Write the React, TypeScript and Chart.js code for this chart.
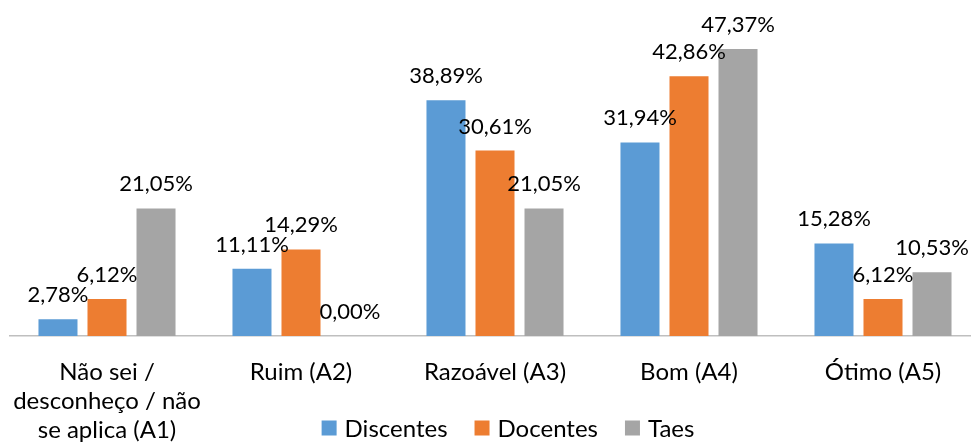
import React, { useEffect, useRef } from "react";
import { Chart, registerables } from "chart.js";

Chart.register(...registerables);

const categories: (string | string[])[] = [
  ["Não sei /", "desconheço / não", "se aplica (A1)"],
  "Ruim (A2)",
  "Razoável (A3)",
  "Bom (A4)",
  "Ótimo (A5)",
];
const discentes = [2.78, 11.11, 38.89, 31.94, 15.28];
const docentes = [6.12, 14.29, 30.61, 42.86, 6.12];
const taes = [21.05, 0.0, 21.05, 47.37, 10.53];
const seriesNames = ["Discentes", "Docentes", "Taes"];
const colors = ["#5B9BD5", "#ED7D31", "#A5A5A5"];

const FONT = "Lato, 'Open Sans', sans-serif";
const fmt = (v: number) => v.toFixed(2).replace(".", ",") + "%";

const labelPlugin = {
  id: "barLabels",
  afterDatasetsDraw(chart: any) {
    const ctx = chart.ctx;
    ctx.save();
    ctx.font = `22px ${FONT}`;
    ctx.fillStyle = "#000";
    ctx.textAlign = "center";
    ctx.textBaseline = "alphabetic";
    chart.data.datasets.forEach((ds: any, i: number) => {
      const meta = chart.getDatasetMeta(i);
      meta.data.forEach((bar: any, j: number) => {
        ctx.fillText(fmt(ds.data[j]), bar.x, bar.y - 17);
      });
    });
    ctx.restore();
  },
};

const legendPlugin = {
  id: "customLegend",
  afterDraw(chart: any) {
    const ctx = chart.ctx;
    ctx.save();
    ctx.font = `24px ${FONT}`;
    ctx.textBaseline = "middle";
    ctx.textAlign = "left";
    const box = 15;
    const gapText = 8;
    const gapItem = 27;
    const items = chart.data.datasets.map((ds: any) => ({
      label: ds.label,
      color: ds.backgroundColor,
      w: ctx.measureText(ds.label).width,
    }));
    const total =
      items.reduce((s: number, it: any) => s + box + gapText + it.w, 0) +
      gapItem * (items.length - 1);
    let x = 508 - total / 2;
    const y = 428;
    items.forEach((it: any) => {
      ctx.fillStyle = it.color;
      ctx.fillRect(x, y - box / 2, box, box);
      ctx.fillStyle = "#000";
      ctx.fillText(it.label, x + box + gapText, y + 1);
      x += box + gapText + it.w + gapItem;
    });
    ctx.restore();
  },
};

export default function App() {
  const ref = useRef<HTMLCanvasElement | null>(null);
  useEffect(() => {
    if (!ref.current) return;
    const chart = new Chart(ref.current, {
      type: "bar",
      data: {
        labels: categories as any,
        datasets: [discentes, docentes, taes].map((d, i) => ({
          label: seriesNames[i],
          data: d,
          backgroundColor: colors[i],
          borderWidth: 0,
          barPercentage: 0.796,
          categoryPercentage: 0.758,
        })),
      },
      options: {
        animation: false,
        responsive: false,
        layout: { padding: { left: 10, right: 10, top: 33, bottom: 0 } },
        plugins: { legend: { display: false }, tooltip: { enabled: false } },
        scales: {
          x: {
            grid: { display: false, drawTicks: false },
            border: { display: true, color: "#BFBFBF", width: 1.5 },
            ticks: {
              color: "#000",
              font: { family: FONT, size: 24, lineHeight: 29 / 24 },
              padding: 22,
              maxRotation: 0,
              autoSkip: false,
            },
            afterFit: (s: any) => {
              s.height = 112;
              s.paddingLeft = 0;
              s.paddingRight = 0;
            },
          },
          y: {
            display: false,
            min: 0,
            max: 50,
          },
        },
      },
      plugins: [labelPlugin, legendPlugin],
    });
    return () => chart.destroy();
  }, []);
  return (
    <div
      style={{
        position: "fixed",
        left: 0,
        top: 0,
        width: 971,
        height: 448,
        overflow: "hidden",
        background: "#fff",
      }}
    >
      <canvas ref={ref} width={990} height={448} style={{ display: "block", width: 990, height: 448 }} />
    </div>
  );
}
